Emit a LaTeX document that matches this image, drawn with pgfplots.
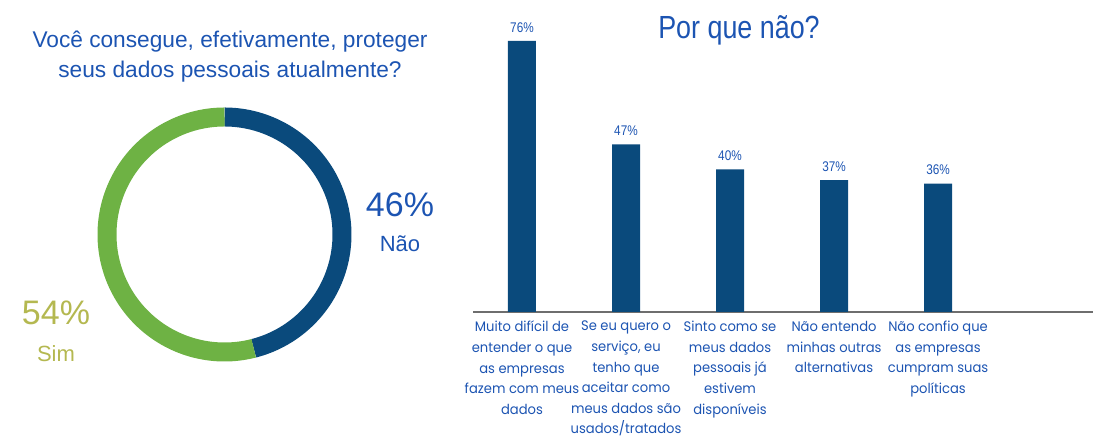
\documentclass[border=0pt]{standalone}
\usepackage{pgfplots}
\pgfplotsset{compat=1.18}
\usepackage{fontspec}
\setmainfont{Liberation Sans}
\newfontfamily\narrowfont[FakeStretch=0.84]{Liberation Sans}
\newfontfamily\labelfont[FakeStretch=0.95]{Poppins}
\definecolor{textblue}{RGB}{28,84,178}
\definecolor{navy}{RGB}{10,74,124}
\definecolor{ringgreen}{RGB}{110,178,68}
\definecolor{olive}{RGB}{180,184,80}
\definecolor{axisgray}{RGB}{110,110,110}
% donut values (percent)
\def\nao{46}
\def\sim{54}
\pgfplotstableread{
x value
0 76
1 47
2 40
3 37
4 36
}\bardata
\begin{document}
\begin{tikzpicture}[x=1bp,y=1bp]
\useasboundingbox (0,0) rectangle (1099,437);
\coordinate (donutc) at (224.5,202.5);
\coordinate (barsw) at (473,125);
% ---------- donut ----------
\pgfmathsetmacro{\naoend}{90-3.6*\nao}
\pgfmathsetmacro{\simstart}{\naoend-3.6*\sim}
\begin{axis}[at={(donutc)}, anchor=center, scale only axis,
  width=254bp, height=254bp, xmin=-127, xmax=127, ymin=-127, ymax=127,
  hide axis, clip=false]
\addplot[navy, line width=19bp, domain=\naoend:90, samples=160, line cap=butt] ({117.5*cos(x)},{117.5*sin(x)});
\addplot[ringgreen, line width=19bp, domain=\simstart:\naoend, samples=180, line cap=butt] ({117.5*cos(x)},{117.5*sin(x)});
\end{axis}
\node[text=textblue, font=\fontsize{22.7bp}{30bp}\selectfont, align=center] at (230,380) {Você consegue, efetivamente, proteger\\seus dados pessoais atualmente?};
\node[text=textblue, font=\fontsize{34bp}{34bp}\selectfont] at (400,232) {\nao\%};
\node[text=textblue, font=\fontsize{22bp}{22bp}\selectfont] at (400,193) {Não};
\node[text=olive, font=\fontsize{34bp}{34bp}\selectfont] at (56,124) {\sim\%};
\node[text=olive, font=\fontsize{22bp}{22bp}\selectfont] at (56,83) {Sim};
% ---------- bars ----------
\node[text=textblue, font=\narrowfont\fontsize{32bp}{32bp}\selectfont] at (739,407) {Por que não?};
\begin{axis}[at={(barsw)}, anchor=south west, scale only axis,
  width=620bp, height=285.3bp, xmin=-0.471, xmax=5.49, ymin=0, ymax=80,
  ybar, bar width=28bp, axis y line=none, axis x line*=bottom,
  x axis line style={-, color=axisgray, line width=1.5bp},
  major tick length=0, ytick=\empty, xtick={0,1,2,3,4},
  xticklabels={{Muito difícil de\\entender o que\\as empresas\\fazem com meus\\dados},
    {Se eu quero o\\serviço, eu\\tenho que\\aceitar como\\meus dados são\\usados/tratados},
    {Sinto como se\\meus dados\\pessoais já\\estivem\\disponíveis},
    {Não entendo\\minhas outras\\alternativas},
    {Não confio que\\as empresas\\cumpram suas\\políticas}},
  xticklabel style={anchor=north, align=center, text=textblue, inner sep=0pt, yshift=-9bp,
    font=\labelfont\fontsize{13.8bp}{20.6bp}\selectfont},
  nodes near coords={\pgfmathprintnumber[assume math mode=true]{\pgfplotspointmeta}\%},
  nodes near coords style={font=\narrowfont\fontsize{14bp}{14bp}\selectfont, text=textblue, yshift=5bp},
  clip=false]
\addplot[fill=navy, draw=none] table[x=x, y=value] {\bardata};
\end{axis}
\end{tikzpicture}
\end{document}
